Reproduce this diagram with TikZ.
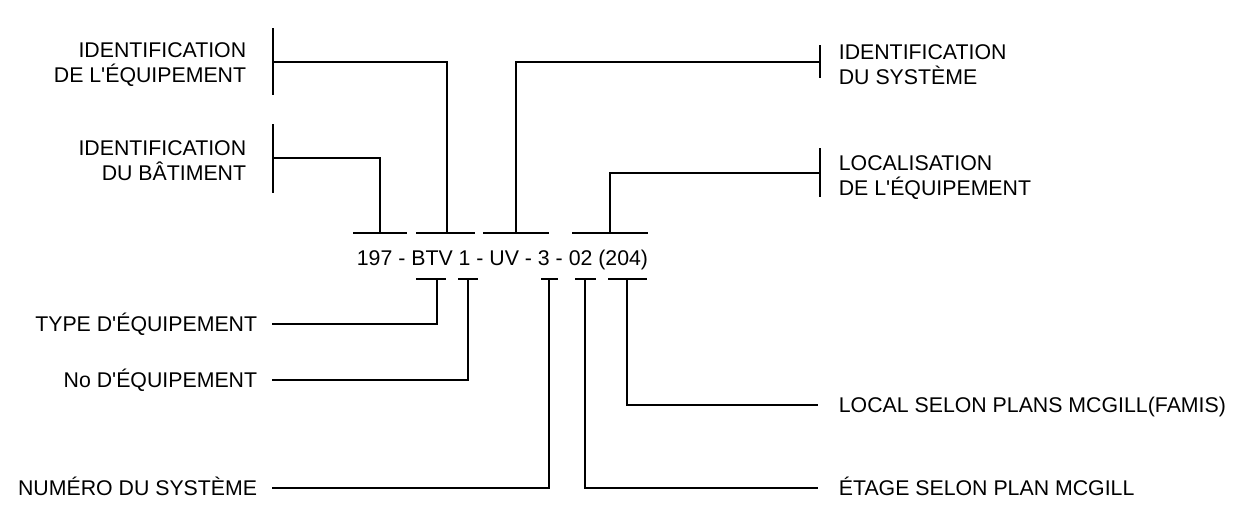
\documentclass[tikz,border=0pt]{standalone}
\usepackage{fontspec}
\setmainfont{Liberation Sans}
\usetikzlibrary{positioning}
\begin{document}
\begin{tikzpicture}[x=1pt,y=-1pt,line width=1.7pt,
  lbl/.style={font=\fontsize{21.3}{25.5}\selectfont,inner sep=0pt},
  lblone/.style={lbl,text height=15pt,text depth=0pt},
  lbltwo/.style={lbl,align=left,yshift=-2.5pt}]
\useasboundingbox (0,0) rectangle (1244,509);
\node[lblone] (code) at (502.5,257.5) {197 - BTV 1 - UV - 3 - 02 (204)};
% bars over and under the code
\foreach \a/\b in {353/407,416/475,483/549,572/648} {
  \draw (\a,233) -- (\b,233);
}
\foreach \a/\b in {416/446,458/478,541/558,575/596,608/647} {
  \draw (\a,279) -- (\b,279);
}
\coordinate (bat) at (380,233);
\coordinate (equ) at (447,233);
\coordinate (sys) at (516,233);
\coordinate (loc) at (610,233);
\coordinate (typ) at (437,279);
\coordinate (num) at (468,279);
\coordinate (nsys) at (549,279);
\coordinate (eta) at (585,279);
\coordinate (lcl) at (627,279);
% ends of the leaders
\coordinate (tequ) at (273,62);
\coordinate (tbat) at (273,158);
\coordinate (tsys) at (820,62);
\coordinate (tloc) at (820,173);
\coordinate (etyp) at (272,324);
\coordinate (enum) at (272,380);
\coordinate (ensys) at (272,488);
\coordinate (elcl) at (818,405);
\coordinate (eeta) at (818,488);
\draw ([yshift=34pt]tequ) -- ([yshift=-33pt]tequ);
\draw ([yshift=34pt]tbat) -- ([yshift=-35pt]tbat);
\draw ([yshift=17pt]tsys) -- ([yshift=-16pt]tsys);
\draw ([yshift=25pt]tloc) -- ([yshift=-24pt]tloc);
\draw (equ) |- (tequ);
\draw (bat) |- (tbat);
\draw (sys) |- (tsys);
\draw (loc) |- (tloc);
\draw (typ) |- (etyp);
\draw (num) |- (enum);
\draw (nsys) |- (ensys);
\draw (lcl) |- (elcl);
\draw (eta) |- (eeta);
% labels
\node[lbltwo,align=right,left=26pt of tequ] (lequ) {IDENTIFICATION\\DE L\textquotesingle ÉQUIPEMENT};
\node[lbltwo,align=right,left=26pt of tbat] (lbat) {IDENTIFICATION\\DU BÂTIMENT};
\node[lbltwo,right=18pt of tsys] (lsys) {IDENTIFICATION\\DU SYSTÈME};
\node[lbltwo,right=18pt of tloc,yshift=-2pt] (lloc) {LOCALISATION\\DE L\textquotesingle ÉQUIPEMENT};
\node[lblone,left=14pt of etyp] (ltyp) {TYPE D\textquotesingle ÉQUIPEMENT};
\node[lblone,left=14pt of enum] (lnum) {No D\textquotesingle ÉQUIPEMENT};
\node[lblone,left=14pt of ensys] (lnsys) {NUMÉRO DU SYSTÈME};
\node[lblone,right=20pt of elcl] (llcl) {LOCAL SELON PLANS MCGILL(FAMIS)};
\node[lblone,right=20pt of eeta] (leta) {ÉTAGE SELON PLAN MCGILL};
\end{tikzpicture}
\end{document}
